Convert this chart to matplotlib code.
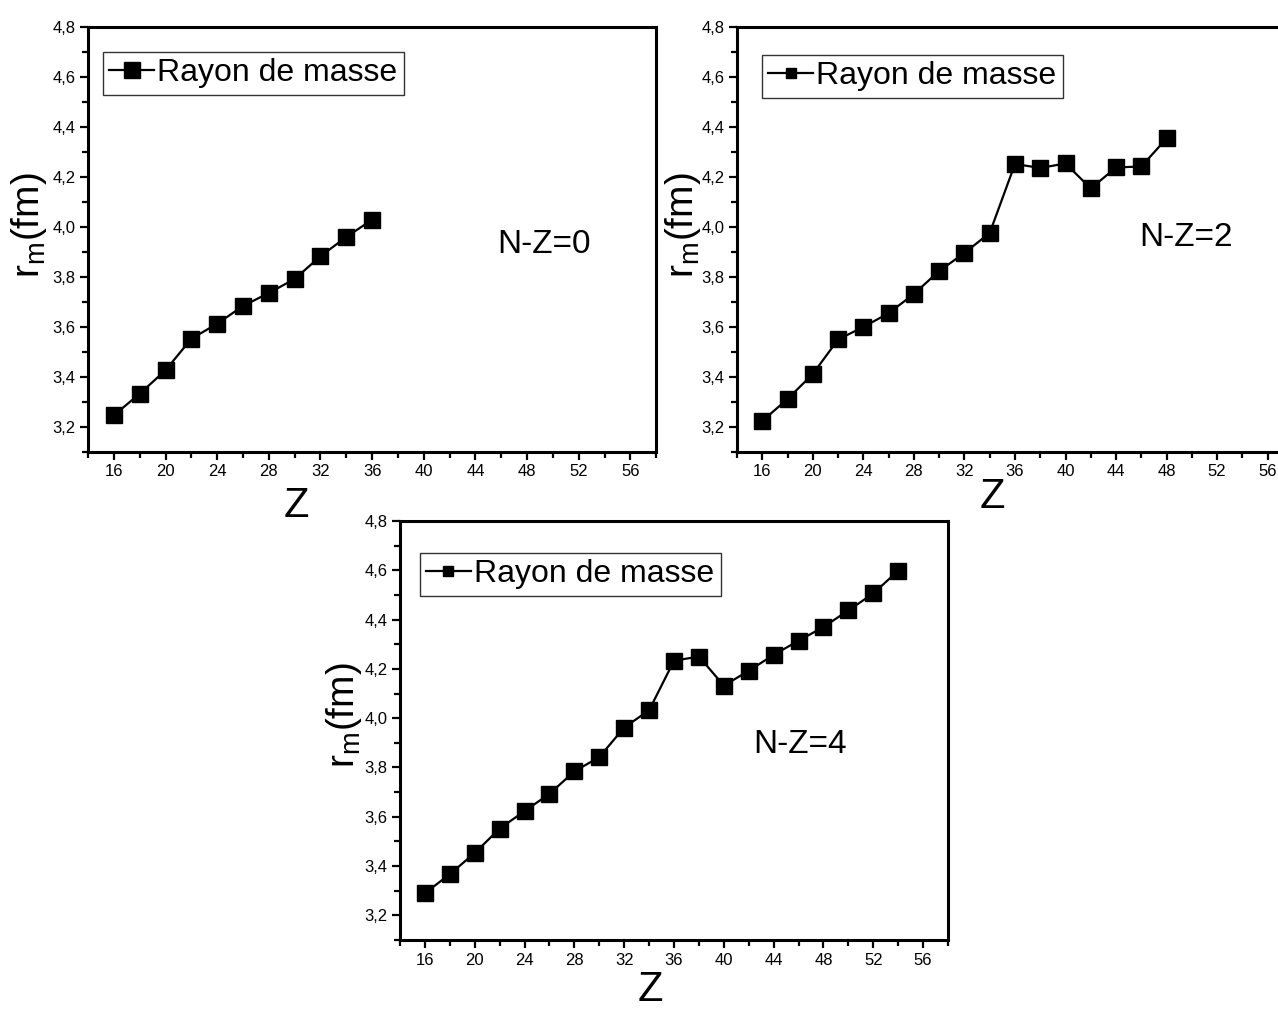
import numpy as np
import matplotlib
matplotlib.use("Agg")
import matplotlib.pyplot as plt
from matplotlib.ticker import MultipleLocator, FuncFormatter

plt.rcParams['font.family'] = ['Liberation Sans', 'DejaVu Sans']
plt.rcParams['mathtext.fontset'] = 'custom'
plt.rcParams['mathtext.rm'] = 'Liberation Sans'

# data
z0 = [16, 18, 20, 22, 24, 26, 28, 30, 32, 34, 36]
rm0 = [3.247, 3.333, 3.427, 3.553, 3.613, 3.684, 3.736, 3.792, 3.883, 3.960, 4.029]

z2 = [16, 18, 20, 22, 24, 26, 28, 30, 32, 34, 36, 38, 40, 42, 44, 46, 48]
rm2 = [3.224, 3.312, 3.412, 3.550, 3.600, 3.655, 3.732, 3.824, 3.896, 3.976,
       4.252, 4.236, 4.254, 4.154, 4.238, 4.242, 4.354]

z4 = [16, 18, 20, 22, 24, 26, 28, 30, 32, 34, 36, 38, 40, 42, 44, 46, 48, 50, 52, 54]
rm4 = [3.290, 3.367, 3.453, 3.552, 3.623, 3.693, 3.784, 3.842, 3.962, 4.032,
       4.233, 4.250, 4.132, 4.192, 4.257, 4.314, 4.370, 4.437, 4.506, 4.598]

labels = ['N-Z=0', 'N-Z=2', 'N-Z=4']

fig = plt.figure(figsize=(12.78, 10.10), dpi=100)

# [rect, legend anchor, legend marker scale, Z label pos, r label pos, N-Z text pos]
panels = [
    ([0.0689, 0.5525, 0.4446, 0.4208], (0.026, 0.941), 1.0, (0.366, -0.126), (-0.104, 0.534), (49.3, 3.93)),
    ([0.5767, 0.5525, 0.4350, 0.4208], (0.045, 0.934), 0.62, (0.460, -0.107), (-0.097, 0.534), (49.5, 3.956)),
    ([0.3130, 0.0693, 0.4288, 0.4149], (0.036, 0.924), 0.62, (0.456, -0.119), (-0.103, 0.537), (46.1, 3.894)),
]
series = [(z0, rm0), (z2, rm2), (z4, rm4)]

for (rect, lpos, mscale, zpos, rpos, tpos), (zz, rr), lab in zip(panels, series, labels):
    ax = fig.add_axes(rect)
    ax.plot(zz, rr, '-', color='black', lw=1.6, marker='s', ms=11,
            markeredgecolor='black', label='Rayon de masse')
    ax.set_xlim(14, 58)
    ax.set_ylim(3.1, 4.8)
    ax.xaxis.set_major_locator(MultipleLocator(4))
    ax.xaxis.set_minor_locator(MultipleLocator(2))
    ax.yaxis.set_major_locator(MultipleLocator(0.2))
    ax.yaxis.set_minor_locator(MultipleLocator(0.1))
    ax.yaxis.set_major_formatter(FuncFormatter(lambda v, p: ('%.1f' % v).replace('.', ',')))
    ax.tick_params(which='major', direction='out', length=6, width=1.6, labelsize=12, pad=3)
    ax.tick_params(which='minor', direction='out', length=4, width=1.6)
    for s in ax.spines.values():
        s.set_linewidth(2.2)
    ax.text(zpos[0], zpos[1], 'Z', transform=ax.transAxes, ha='center', va='center',
            fontsize=30)
    ax.text(rpos[0], rpos[1], r'r$_\mathregular{m}$(fm)', transform=ax.transAxes,
            ha='center', va='center', rotation=90, fontsize=28)
    ax.text(tpos[0], tpos[1], lab, ha='center', va='center', fontsize=24)
    leg = ax.legend(loc='upper left', bbox_to_anchor=lpos, borderaxespad=0,
                    fontsize=23, frameon=True, fancybox=False, borderpad=0.2,
                    handlelength=1.4, handletextpad=0.1, markerscale=mscale)
    leg.get_frame().set_edgecolor('black')
    leg.get_frame().set_linewidth(1.0)

fig.savefig('out.png', dpi=100)
